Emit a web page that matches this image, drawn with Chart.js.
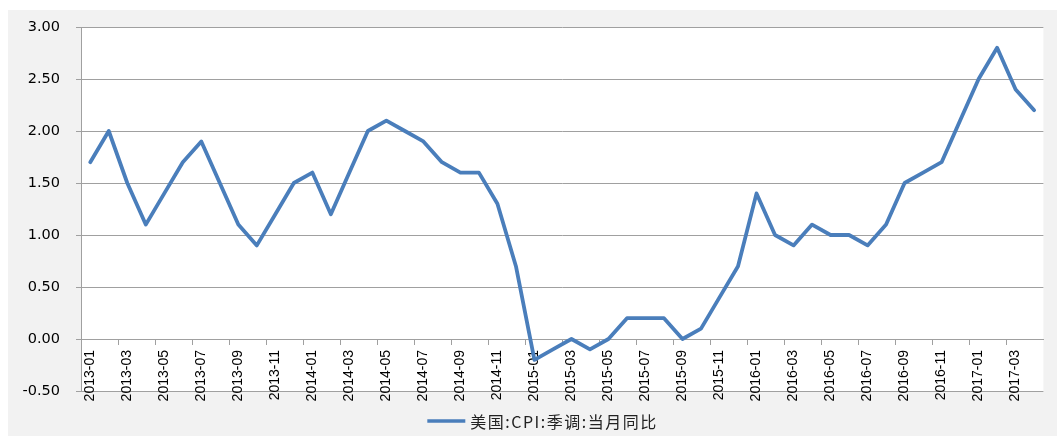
<!DOCTYPE html>
<html>
<head>
<meta charset="utf-8">
<script src="https://cdn.jsdelivr.net/npm/chart.js@4/dist/chart.umd.min.js"></script>
<style>
  html, body { margin: 0; padding: 0; background: #ffffff; }
  #wrap { position: absolute; left: 8px; top: 10px; width: 1049px; height: 426px; background: #f2f2f2; }
  #c { display: block; }
</style>
</head>
<body>
<div id="wrap"><canvas id="c"></canvas></div>
<script>
const categories = [
  '2013-01','2013-02','2013-03','2013-04','2013-05','2013-06','2013-07','2013-08','2013-09','2013-10','2013-11','2013-12',
  '2014-01','2014-02','2014-03','2014-04','2014-05','2014-06','2014-07','2014-08','2014-09','2014-10','2014-11','2014-12',
  '2015-01','2015-02','2015-03','2015-04','2015-05','2015-06','2015-07','2015-08','2015-09','2015-10','2015-11','2015-12',
  '2016-01','2016-02','2016-03','2016-04','2016-05','2016-06','2016-07','2016-08','2016-09','2016-10','2016-11','2016-12',
  '2017-01','2017-02','2017-03','2017-04'
];
const cpiYoY = [
  1.7, 2.0, 1.5, 1.1, 1.4, 1.7, 1.9, 1.5, 1.1, 0.9, 1.2, 1.5,
  1.6, 1.2, 1.6, 2.0, 2.1, 2.0, 1.9, 1.7, 1.6, 1.6, 1.3, 0.7,
  -0.2, -0.1, 0.0, -0.1, 0.0, 0.2, 0.2, 0.2, 0.0, 0.1, 0.4, 0.7,
  1.4, 1.0, 0.9, 1.1, 1.0, 1.0, 0.9, 1.1, 1.5, 1.6, 1.7, 2.1,
  2.5, 2.8, 2.4, 2.2
];
const seriesName = '美国:CPI:季调:当月同比';
const yMin = -0.5, yMax = 3.0, yStep = 0.5;

const GRID = '#a0a0a0';
const LINE = '#4a7ebb';

const plotBg = {
  id: 'plotBg',
  beforeDraw(chart) {
    const { ctx, chartArea: a } = chart;
    ctx.save();
    ctx.fillStyle = '#ffffff';
    ctx.fillRect(a.left, a.top, a.right - a.left, a.bottom - a.top);
    ctx.restore();
  }
};

const bottomLegend = {
  id: 'bottomLegend',
  afterDraw(chart) {
    const ctx = chart.ctx;
    const ds = chart.data.datasets[0];
    ctx.save();
    ctx.font = '16px "Noto Sans CJK SC", sans-serif';
    if ('letterSpacing' in ctx) ctx.letterSpacing = '1.5px';
    const tw = ctx.measureText(ds.label).width;
    const lineW = 38, gap = 5;
    const total = lineW + gap + tw;
    const x0 = chart.width / 2 - total / 2 + 10;
    const y = chart.height - 15;
    ctx.strokeStyle = ds.borderColor;
    ctx.lineWidth = 3.5;
    ctx.beginPath();
    ctx.moveTo(x0, y);
    ctx.lineTo(x0 + lineW, y);
    ctx.stroke();
    ctx.fillStyle = '#222222';
    ctx.textBaseline = 'middle';
    ctx.textAlign = 'left';
    ctx.fillText(ds.label, x0 + lineW + gap, y + 1);
    ctx.restore();
  }
};

new Chart(document.getElementById('c'), {
  type: 'line',
  data: {
    labels: categories,
    datasets: [{
      label: seriesName,
      data: cpiYoY,
      borderColor: LINE,
      backgroundColor: LINE,
      borderWidth: 3.8,
      pointRadius: 0,
      pointHoverRadius: 0,
      tension: 0,
      borderJoinStyle: 'round',
      borderCapStyle: 'round',
      fill: false
    }]
  },
  options: {
    responsive: true,
    maintainAspectRatio: false,
    animation: false,
    layout: { padding: { left: 0, top: 17, right: 6, bottom: 45 } },
    plugins: {
      legend: { display: false },
      tooltip: { enabled: false }
    },
    scales: {
      x: {
        type: 'category',
        position: { y: 0 },
        offset: true,
        grid: {
          offset: true,
          drawOnChartArea: false,
          drawTicks: true,
          tickLength: 5,
          color: (c) => (c.index % 2 === 0 ? GRID : 'rgba(0,0,0,0)')
        },
        border: { display: true, color: GRID, width: 1 },
        ticks: {
          autoSkip: false,
          minRotation: 90,
          maxRotation: 90,
          padding: 6,
          color: '#000000',
          font: { family: '"Liberation Sans", Arial, sans-serif', size: 14 },
          callback: function (v, i) { return i % 2 === 0 ? categories[i] : ''; }
        }
      },
      y: {
        min: yMin,
        max: yMax,
        afterFit(scale) {
          scale.width = 73;
          scale.paddingTop = 8;
          scale.paddingBottom = 8;
        },
        grid: {
          color: GRID,
          lineWidth: 1,
          drawTicks: true,
          tickLength: 5
        },
        border: { display: true, color: GRID, width: 1 },
        ticks: {
          stepSize: yStep,
          padding: 16,
          color: '#000000',
          font: { family: '"DejaVu Sans", Verdana, sans-serif', size: 14.5 },
          callback: (v) => Number(v).toFixed(2)
        }
      }
    }
  },
  plugins: [plotBg, bottomLegend]
});
</script>
</body>
</html>
